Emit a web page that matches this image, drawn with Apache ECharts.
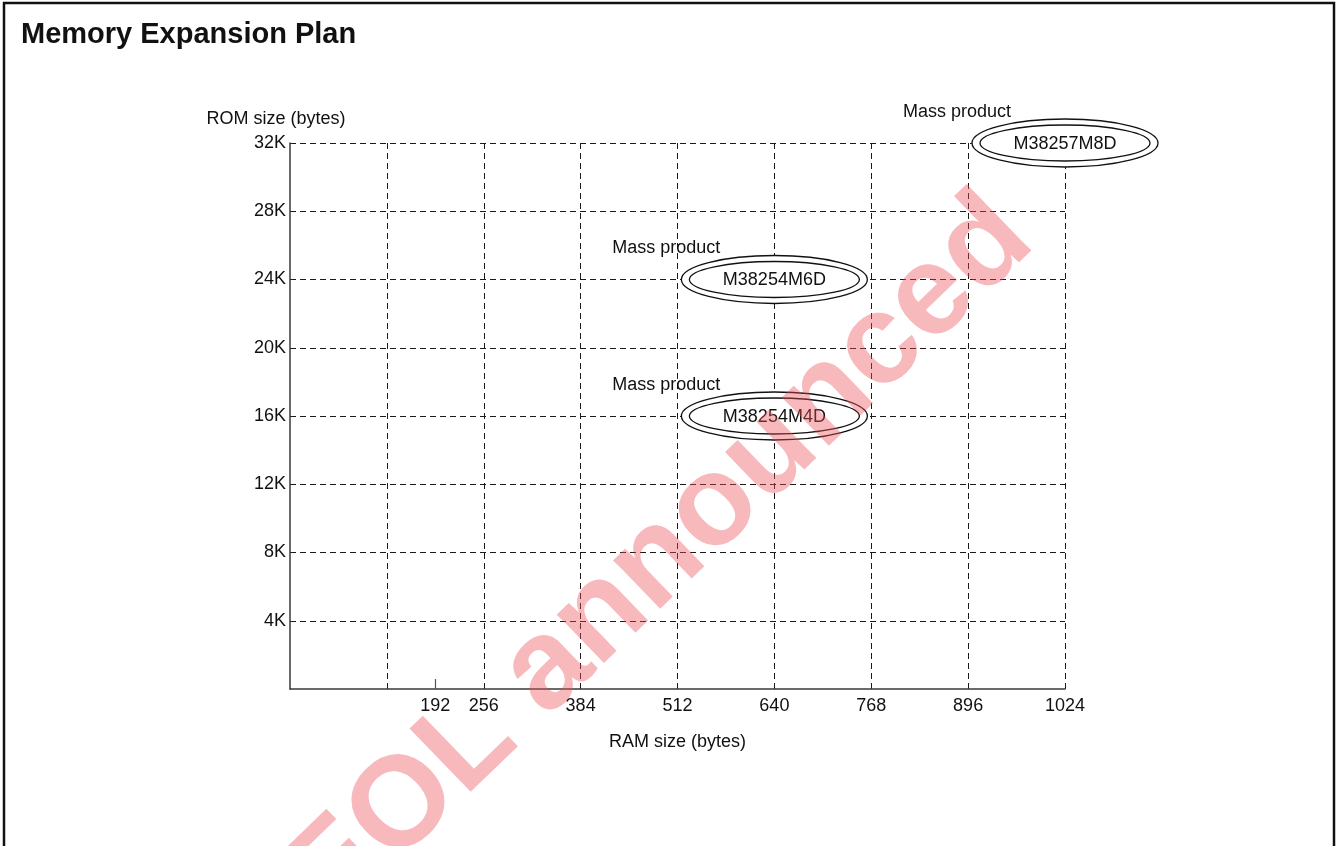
<!DOCTYPE html>
<html>
<head>
<meta charset="utf-8">
<script src="https://cdn.jsdelivr.net/npm/echarts@6/dist/echarts.min.js"></script>
<style>
html,body{margin:0;padding:0;background:#fff;}
#chart{width:1337px;height:846px;}
</style>
</head>
<body>
<div id="chart"></div>
<script>
// ---- data ----
const chartTitle = 'Memory Expansion Plan';
const xAxisName = 'RAM size (bytes)';
const yAxisName = 'ROM size (bytes)';
const ramValues = [640, 640, 1024];          // RAM size (bytes)
const romValues = [16, 24, 32];              // ROM size (K bytes)
const partNames = ['M38254M4D', 'M38254M6D', 'M38257M8D'];
const statusLabels = ['Mass product', 'Mass product', 'Mass product'];
const xTickLabels = [192, 256, 384, 512, 640, 768, 896, 1024];
const xMarkTicks = [192];
const watermarkText = 'EOL announced';

const FONT = '"Liberation Sans", Arial, Helvetica, sans-serif';

const seriesData = ramValues.map((r, i) => [r, romValues[i]]);

const chart = echarts.init(document.getElementById('chart'), null, {renderer: 'canvas'});

const option = {
  backgroundColor: '#ffffff',
  animation: false,
  title: {
    text: chartTitle,
    left: 16,
    top: 15,
    textStyle: {fontFamily: FONT, fontSize: 29, fontWeight: 'bold', color: '#111'}
  },
  grid: {left: 290, top: 143, width: 775, height: 546, containLabel: false},
  xAxis: [
    {
      type: 'value', min: 0, max: 1024, interval: 128,
      name: xAxisName, nameLocation: 'middle', nameGap: 44,
      nameTextStyle: {fontFamily: FONT, fontSize: 18, color: '#111'},
      axisLine: {show: true, lineStyle: {color: '#3a3a3a', width: 1.5}},
      axisTick: {show: false},
      axisLabel: {show: false},
      splitLine: {show: true, showMinLine: false,
                  lineStyle: {color: '#1a1a1a', width: 1, type: [6, 4]}}
    },
    {
      type: 'value', min: 0, max: 1024, position: 'bottom', gridIndex: 0,
      axisLine: {show: false},
      axisTick: {show: true, inside: true, length: 10, customValues: xMarkTicks,
                 lineStyle: {color: '#555', width: 1.2}},
      axisLabel: {show: true, customValues: xTickLabels, margin: 8,
                  fontFamily: FONT, fontSize: 18, color: '#111',
                  formatter: v => String(v)},
      splitLine: {show: false}
    }
  ],
  yAxis: {
    type: 'value', min: 0, max: 32, interval: 4,
    name: yAxisName, nameLocation: 'end', nameGap: 15,
    nameTextStyle: {fontFamily: FONT, fontSize: 18, color: '#111', align: 'center', padding: [0, 28, 0, 0]},
    axisLine: {show: true, lineStyle: {color: '#3a3a3a', width: 1.5}},
    axisTick: {show: false},
    axisLabel: {
      margin: 4, fontFamily: FONT, fontSize: 18, color: '#111',
      formatter: v => (v === 0 ? '' : v + 'K')
    },
    splitLine: {show: true, showMinLine: false,
                lineStyle: {color: '#1a1a1a', width: 1, type: [6, 4]}}
  },
  series: [{
    type: 'custom',
    xAxisIndex: 0,
    yAxisIndex: 0,
    clip: false,
    z: 5,
    data: seriesData,
    renderItem: function (params, api) {
      const c = api.coord([api.value(0), api.value(1)]);
      const i = params.dataIndex;
      return {
        type: 'group',
        children: [
          {type: 'ellipse', shape: {cx: c[0], cy: c[1], rx: 93, ry: 24},
           style: {fill: '#ffffff', stroke: '#111', lineWidth: 1.3}},
          {type: 'ellipse', shape: {cx: c[0], cy: c[1], rx: 85, ry: 18},
           style: {fill: 'none', stroke: '#111', lineWidth: 1.3}},
          {type: 'text', x: c[0], y: c[1] + 1,
           style: {text: partNames[i], align: 'center', verticalAlign: 'middle',
                   font: '18px ' + FONT, fill: '#111'}},
          {type: 'text', x: c[0] - 54, y: c[1] - 31,
           style: {text: statusLabels[i], align: 'right', verticalAlign: 'middle',
                   font: '18px ' + FONT, fill: '#111'}}
        ]
      };
    }
  }],
  graphic: [
    {
      type: 'rect', z: 200, silent: true,
      shape: {x: 4, y: 3, width: 1330, height: 880},
      style: {fill: 'none', stroke: '#111', lineWidth: 2.5}
    },
    {
      type: 'text', z: 150, silent: true,
      x: 660, y: 560, rotation: 44 * Math.PI / 180,
      style: {text: watermarkText, align: 'center', verticalAlign: 'middle',
              font: 'bold 128px ' + FONT, fill: 'rgba(238,80,90,0.40)'}
    }
  ]
};
chart.setOption(option);
</script>
</body>
</html>
